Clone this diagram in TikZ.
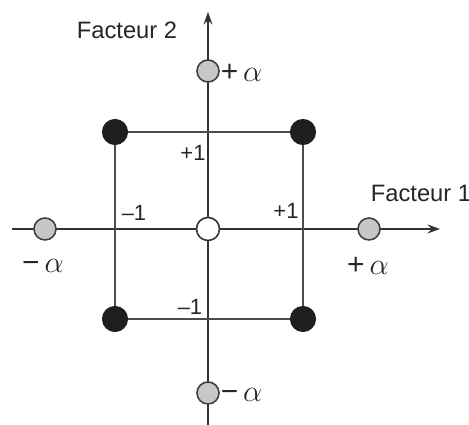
\documentclass[tikz,border=0pt]{standalone}
\usepackage{fontspec}
\setmainfont{Liberation Sans}
\usetikzlibrary{arrows.meta}

\begin{document}
\begin{tikzpicture}[>={Stealth[length=7pt,width=5pt]}, line width=1.2pt,
      axe/.style={draw=black!80, ->},
      cote/.style={draw=black!70, line width=1pt},
      plein/.style={circle, fill=black!88, draw=black!88, minimum size=0.48cm, inner sep=0pt},
      axial/.style={circle, fill=black!22, draw=black!75, line width=0.9pt, minimum size=0.44cm, inner sep=0pt},
      centre/.style={circle, fill=white, draw=black!80, line width=0.9pt, minimum size=0.46cm, inner sep=0pt},
      lab/.style={font=\fontsize{12.5}{14}\selectfont, text=black!85, inner sep=1pt},
      alab/.style={font=\fontsize{17}{19}\selectfont, text=black!85, inner sep=1pt},
      fac/.style={font=\fontsize{13.5}{16}\selectfont, text=black!85}]

    \useasboundingbox (-4.16,-3.92) rectangle (5.22,4.58);

    % Axis ends
    \coordinate (xl) at (-3.92, 0);
    \coordinate (xr) at (4.64, 0);
    \coordinate (yb) at (0, -3.92);
    \coordinate (yt) at (0, 4.34);

    % Axes
    \draw[axe] (xl) -- (xr);
    \draw[axe] (yb) -- (yt);

    % Square of the factorial points
    \coordinate (nw) at (-1.86, 1.94);
    \coordinate (ne) at (1.90, 1.94);
    \coordinate (se) at (1.90, -1.80);
    \coordinate (sw) at (-1.86, -1.80);
    \draw[cote] (nw) -- (ne) -- (se) -- (sw) -- cycle;

    % Points
    \node[plein] (pnw) at (nw) {};
    \node[plein] (pne) at (ne) {};
    \node[plein] (pse) at (se) {};
    \node[plein] (psw) at (sw) {};
    \node[axial] (a2p) at (0, 3.16) {};
    \node[axial] (a2m) at (0, -3.28) {};
    \node[axial] (a1m) at (-3.26, 0) {};
    \node[axial] (a1p) at (3.22, 0) {};
    \node[centre] (c) at (0, 0) {};

    % Labels
    \node[fac] (f2) at (-1.62, 3.98) {Facteur 2};
    \node[fac] (f1) at (4.26, 0.72) {Facteur 1};
    \node[alab, anchor=west] (l2p) at (0.2, 3.12) {+\,$\alpha$};
    \node[alab, anchor=west] (l2m) at (0.2, -3.32) {−\,$\alpha$};
    \node[alab] (l1m) at (-3.30, -0.74) {−\,$\alpha$};
    \node[alab] (l1p) at (3.20, -0.74) {+\,$\alpha$};
    \node[lab] (m1x) at (-1.48, 0.33) {–1};
    \node[lab] (p1x) at (1.56, 0.36) {+1};
    \node[lab] (p1y) at (-0.30, 1.52) {+1};
    \node[lab] (m1y) at (-0.36, -1.56) {–1};

\end{tikzpicture}
\end{document}
